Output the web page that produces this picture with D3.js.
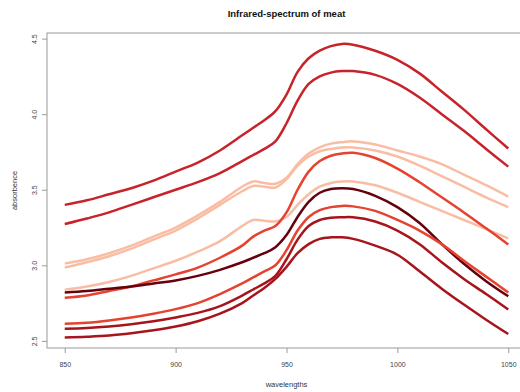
<!DOCTYPE html>
<html>
<head>
<meta charset="utf-8">
<script src="https://cdn.jsdelivr.net/npm/d3@7"></script>
<style>
  body { margin: 0; background: #fff; }
  svg text { font-family: "Liberation Sans", Arial, sans-serif; }
</style>
</head>
<body>
<svg id="chart" width="520" height="392"></svg>
<script>
let wavelengths = [850, 860, 870, 880, 890, 900, 910, 920, 930, 935, 940, 945, 950, 955, 960, 965, 970, 975, 980, 990, 1000, 1010, 1020, 1030, 1040, 1050];

let specA  = [3.400, 3.430, 3.470, 3.510, 3.560, 3.620, 3.680, 3.760, 3.860, 3.910, 3.960, 4.020, 4.130, 4.280, 4.370, 4.420, 4.450, 4.465, 4.460, 4.420, 4.360, 4.270, 4.150, 4.030, 3.900, 3.773];
let specB  = [3.273, 3.310, 3.350, 3.400, 3.450, 3.500, 3.550, 3.610, 3.690, 3.730, 3.770, 3.820, 3.940, 4.090, 4.200, 4.250, 4.275, 4.285, 4.285, 4.260, 4.200, 4.110, 4.000, 3.890, 3.770, 3.653];
let specL1 = [3.011, 3.040, 3.080, 3.130, 3.190, 3.250, 3.330, 3.420, 3.520, 3.555, 3.545, 3.540, 3.580, 3.670, 3.740, 3.780, 3.805, 3.815, 3.820, 3.800, 3.760, 3.720, 3.670, 3.600, 3.530, 3.455];
let specL2 = [2.985, 3.020, 3.060, 3.110, 3.170, 3.230, 3.310, 3.400, 3.490, 3.525, 3.520, 3.515, 3.570, 3.660, 3.720, 3.755, 3.770, 3.780, 3.780, 3.760, 3.720, 3.660, 3.590, 3.520, 3.450, 3.385];
let specL3 = [2.838, 2.860, 2.890, 2.930, 2.980, 3.030, 3.090, 3.160, 3.260, 3.300, 3.295, 3.290, 3.320, 3.400, 3.470, 3.520, 3.545, 3.555, 3.555, 3.530, 3.480, 3.420, 3.360, 3.300, 3.240, 3.178];
let specR1 = [2.785, 2.800, 2.830, 2.860, 2.900, 2.940, 2.985, 3.050, 3.130, 3.190, 3.230, 3.260, 3.350, 3.500, 3.620, 3.690, 3.725, 3.740, 3.745, 3.710, 3.640, 3.550, 3.450, 3.350, 3.245, 3.138];
let specD  = [2.820, 2.830, 2.845, 2.860, 2.880, 2.900, 2.930, 2.970, 3.020, 3.050, 3.080, 3.120, 3.200, 3.320, 3.420, 3.480, 3.505, 3.510, 3.505, 3.460, 3.385, 3.280, 3.140, 3.010, 2.895, 2.795];
let specR2 = [2.613, 2.620, 2.635, 2.655, 2.680, 2.710, 2.750, 2.810, 2.880, 2.920, 2.960, 3.000, 3.100, 3.230, 3.320, 3.365, 3.385, 3.393, 3.390, 3.360, 3.300, 3.230, 3.140, 3.030, 2.925, 2.820];
let specM1 = [2.580, 2.585, 2.595, 2.610, 2.630, 2.655, 2.685, 2.730, 2.800, 2.840, 2.880, 2.930, 3.040, 3.170, 3.260, 3.300, 3.315, 3.318, 3.318, 3.290, 3.230, 3.140, 3.020, 2.910, 2.810, 2.707];
let specM2 = [2.522, 2.527, 2.535, 2.550, 2.570, 2.595, 2.630, 2.680, 2.750, 2.800, 2.850, 2.910, 2.990, 3.080, 3.140, 3.175, 3.185, 3.185, 3.175, 3.130, 3.070, 2.960, 2.845, 2.740, 2.640, 2.545];

let spectra = [specA, specB, specL1, specL2, specL3, specR1, specD, specR2, specM1, specM2];
let spectraColors = ["#C8232B", "#C8232B", "#F9BDA4", "#F9BDA4", "#F9BDA4", "#E5422F", "#67000D", "#E5422F", "#A8141C", "#A8141C"];

let xTicks = [850, 900, 950, 1000, 1050];
let yTicks = [2.5, 3.0, 3.5, 4.0, 4.5];

let svg = d3.select("#chart");

let plotLeft = 47, plotTop = 33, plotRight = 526, plotBottom = 348;

let x = d3.scaleLinear().domain([842, 1058]).range([plotLeft, plotRight]);
let y = d3.scaleLinear().domain([2.4528, 4.5372]).range([plotBottom, plotTop]);

// frame
svg.append("rect")
  .attr("x", plotLeft)
  .attr("y", plotTop)
  .attr("width", plotRight - plotLeft)
  .attr("height", plotBottom - plotTop)
  .attr("fill", "none")
  .attr("stroke", "#9a9a9a")
  .attr("stroke-width", 1);

// curves
let line = d3.line()
  .x(function(d, i){ return x(wavelengths[i]); })
  .y(function(d){ return y(d); })
  .curve(d3.curveCatmullRom.alpha(0.5));

svg.append("g")
  .selectAll("path")
  .data(spectra)
  .enter()
  .append("path")
  .attr("d", function(d){ return line(d); })
  .attr("fill", "none")
  .attr("stroke", function(d, i){ return spectraColors[i]; })
  .attr("stroke-width", 2.5)
  .attr("stroke-linejoin", "round");

// axes
let xAxis = d3.axisBottom(x).tickValues(xTicks).tickSize(5).tickPadding(9)
  .tickFormat(d3.format("d"));
let yAxis = d3.axisLeft(y).tickValues(yTicks).tickSize(5)
  .tickFormat(d3.format(".1f"));

let gx = svg.append("g")
  .attr("transform", "translate(0," + plotBottom + ")")
  .call(xAxis);
gx.select(".domain").remove();
gx.selectAll("line").attr("stroke", "#9a9a9a");
gx.selectAll("text")
  .attr("fill", "#444")
  .attr("font-size", "7px")
  .attr("font-family", "Liberation Sans, Arial, sans-serif");

let gy = svg.append("g")
  .attr("transform", "translate(" + plotLeft + ",0)")
  .call(yAxis);
gy.select(".domain").remove();
gy.selectAll("line").attr("stroke", "#9a9a9a");
gy.selectAll("text")
  .attr("fill", "#444")
  .attr("font-size", "7px")
  .attr("font-family", "Liberation Sans, Arial, sans-serif")
  .attr("x", 0)
  .attr("y", 0)
  .attr("dy", 0)
  .style("text-anchor", "middle")
  .attr("transform", "translate(-10,0) rotate(-90)");

// title and labels
svg.append("text")
  .attr("x", (plotLeft + plotRight) / 2)
  .attr("y", 17)
  .style("text-anchor", "middle")
  .attr("font-size", "9.5px")
  .attr("font-weight", "bold")
  .attr("fill", "#111")
  .text("Infrared-spectrum of meat");

svg.append("text")
  .attr("x", (plotLeft + plotRight) / 2)
  .attr("y", 387)
  .style("text-anchor", "middle")
  .attr("font-size", "7.5px")
  .attr("fill", "#333")
  .text("wavelengths");

svg.append("text")
  .attr("transform", "translate(17," + ((plotTop + plotBottom) / 2) + ") rotate(-90)")
  .style("text-anchor", "middle")
  .attr("font-size", "7.5px")
  .attr("fill", "#333")
  .text("absorbence");
</script>
</body>
</html>
